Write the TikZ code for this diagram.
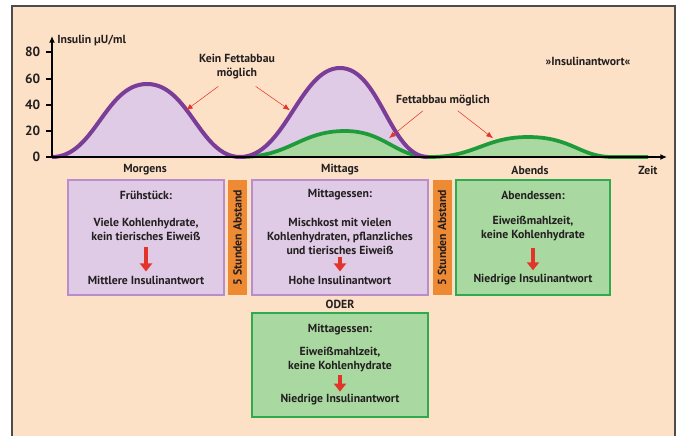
\documentclass[tikz,border=0pt]{standalone}
\usepackage{fontspec}
\setmainfont{PT Sans}
\usetikzlibrary{positioning, calc, arrows.meta}
\definecolor{peach}{HTML}{FCE1C6}
\definecolor{lila}{HTML}{DFCBE5}
\definecolor{lilaRand}{HTML}{B98DCB}
\definecolor{lilaLinie}{HTML}{7A3D98}
\definecolor{gruen}{HTML}{A9D9A1}
\definecolor{gruenRand}{HTML}{2EAA4F}
\definecolor{gruenLinie}{HTML}{1F9B3B}
\definecolor{balken}{HTML}{EE8A33}
\definecolor{pfeilRot}{HTML}{E3342B}
\definecolor{schrift}{HTML}{231F20}
\tikzstyle{Arrow} = [
%thin red pointer
thin, pfeilRot, -{Latex[length=5pt,width=4pt]}, shorten >= 1pt
]
\tikzstyle{BigArrow} = [line width=3pt, pfeilRot, -{Triangle[length=6pt,width=9pt]}]

\begin{document}
\begin{tikzpicture}[
				x = 0.75pt, y = -0.75pt,
				font = \bfseries\fontsize{8.8}{10.5}\selectfont,
				text = schrift,
				lilaBox/.style = {rectangle, draw = lilaRand, fill = lila, line width = 1pt, minimum height = 86.25pt},
				gruenBox/.style = {rectangle, draw = gruenRand, fill = gruen, line width = 1pt},
				pause/.style = {rectangle, fill = balken, rotate = 90, minimum width = 86.25pt, minimum height = 14.25pt, inner sep = 0pt},
				boxtext/.style = {align = center, inner sep = 0pt},
				tick/.style = {anchor = east, font = \bfseries\fontsize{10}{12}\selectfont},
			]
			\useasboundingbox (0,0) rectangle (681,435);
			\draw[gray!60!black, line width = 1pt, fill = peach] (12,6) rectangle (675,445);

			% curves
			\fill[lila] (52,157) .. controls (95,157) and (105,84) .. (147,84) .. controls (189,84) and (200,157) .. (240,157)
				.. controls (285,157) and (300,68) .. (340,68) .. controls (380,68) and (390,157) .. (428,157) -- cycle;
			\fill[gruen] (240,157) .. controls (290,157) and (300,131) .. (345,131) .. controls (385,131) and (395,157) .. (430,157)
				.. controls (475,157) and (485,137) .. (528,137) .. controls (572,137) and (580,157) .. (612,157) -- (648,157) -- cycle;
			\draw[gruenLinie, line width = 2.8pt] (240,157) .. controls (290,157) and (300,131) .. (345,131) .. controls (385,131) and (395,157) .. (430,157)
				.. controls (475,157) and (485,137) .. (528,137) .. controls (572,137) and (580,157) .. (612,157) -- (648,157);
			\draw[lilaLinie, line width = 3pt] (52,157) .. controls (95,157) and (105,84) .. (147,84) .. controls (189,84) and (200,157) .. (240,157)
				.. controls (285,157) and (300,68) .. (340,68) .. controls (380,68) and (390,157) .. (428,157);

			% axes
			\coordinate(O) at (52,157);
			\coordinate(YT) at (52,36);
			\coordinate(XT) at (667,157);
			\draw[line width = 1.1pt, -{Latex[length=5pt,width=4.5pt]}](O)--(YT);
			\draw[line width = 1.1pt, -{Latex[length=5pt,width=4.5pt]}](O)--(XT);
			\draw[line width = 0.8pt] (46,157)--(52,157) (46,131)--(52,131) (46,105)--(52,105) (46,79)--(52,79) (46,52)--(52,52);
			\node[tick](t0) at (45,157){0};
			\node[tick](t20) at (45,131){20};
			\node[tick](t40) at (45,105){40};
			\node[tick](t60) at (45,79){60};
			\node[tick](t80) at (45,52){80};
			\node[anchor = west, inner sep = 0pt](ylab) at (57,40){Insulin µU/ml};
			\node(morgens) at (145,170){Morgens};
			\node(mittags) at (340,170){Mittags};
			\node(abends) at (530,170){Abends};
			\node(zeit) at (648,170){Zeit};
			\node(titel) at (588,61){»Insulinantwort«};

			% pointers
			\node[align = center, inner sep = 1pt](kein) at (237,67){Kein Fettabbau\\möglich};
			\node[inner sep = 1pt](fett) at (443,101){Fettabbau möglich};
			\coordinate(k1) at (185,111);
			\coordinate(k2) at (291,111);
			\coordinate(f1) at (388,139);
			\coordinate(f2) at (494,139);
			\draw[Arrow]([xshift=-14pt, yshift=-4pt]kein.south)--(k1);
			\draw[Arrow]([xshift=14pt, yshift=-4pt]kein.south)--(k2);
			\draw[Arrow]([xshift=-15pt, yshift=-2pt]fett.south)--(f1);
			\draw[Arrow]([xshift=11pt, yshift=-2pt]fett.south)--(f2);

			% meals
			\node[lilaBox, minimum width = 117pt](frueh) at (146,237.5){};
			\node[pause](pause1) at (237.5,237.5){5 Stunden Abstand};
			\node[lilaBox, minimum width = 132pt](mittag) at (340,237.5){};
			\node[pause](pause2) at (442,237.5){5 Stunden Abstand};
			\node[gruenBox, minimum width = 115.5pt, minimum height = 86.25pt](abend) at (533,237.5){};
			\node(oder) at (340,304){ODER};
			\node[gruenBox, minimum width = 132pt, minimum height = 78pt](mittagB) at (340,365){};

			\node[boxtext](fruehKopf) at (146,195){Frühstück:};
			\node[boxtext](fruehText) at (146,229){Viele Kohlenhydrate,\\kein tierisches Eiweiß};
			\node[boxtext](fruehAntw) at (146,280){Mittlere Insulinantwort};
			\draw[BigArrow, shorten <= 5pt, shorten >= 3pt](fruehText)--(fruehAntw);

			\node[boxtext](mittagKopf) at (340,195){Mittagessen:};
			\node[boxtext](mittagText) at (340,236){Mischkost mit vielen\\Kohlenhydraten, pflanzliches\\und tierisches Eiweiß};
			\node[boxtext](mittagAntw) at (340,280){Hohe Insulinantwort};
			\draw[BigArrow, shorten <= 2pt, shorten >= 3pt](mittagText)--(mittagAntw);

			\node[boxtext](abendKopf) at (533,195){Abendessen:};
			\node[boxtext](abendText) at (533,229){Eiweißmahlzeit,\\keine Kohlenhydrate};
			\node[boxtext](abendAntw) at (533,280){Niedrige Insulinantwort};
			\draw[BigArrow, shorten <= 5pt, shorten >= 3pt](abendText)--(abendAntw);

			\node[boxtext](mittagBKopf) at (340,330){Mittagessen:};
			\node[boxtext](mittagBText) at (340,360){Eiweißmahlzeit,\\keine Kohlenhydrate};
			\node[boxtext](mittagBAntw) at (340,400){Niedrige Insulinantwort};
			\draw[BigArrow, shorten <= 2pt, shorten >= 2pt](mittagBText)--(mittagBAntw);

		\end{tikzpicture}
\end{document}
